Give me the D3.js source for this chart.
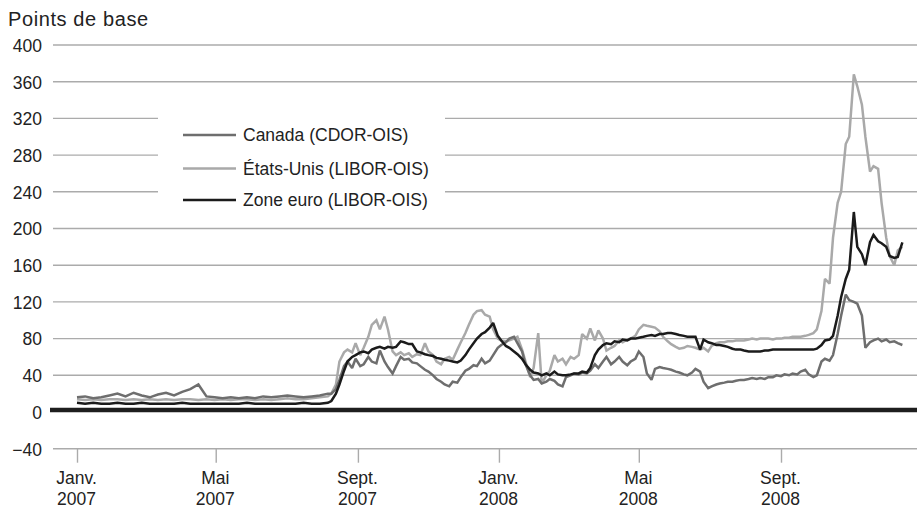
<!DOCTYPE html>
<html>
<head>
<meta charset="utf-8">
<script src="https://cdn.jsdelivr.net/npm/d3@7"></script>
<style>
  html, body { margin: 0; padding: 0; background: #fff; }
  svg { display: block; font-family: "Liberation Sans", Arial, Helvetica, sans-serif; }
</style>
</head>
<body>
<svg id="chart" width="917" height="510"></svg>
<script>
// ---------- DATA ----------
const dates = [
  "2007-01-01","2007-01-08","2007-01-15","2007-01-22","2007-01-29","2007-02-05","2007-02-12","2007-02-19","2007-02-26",
  "2007-03-05","2007-03-12","2007-03-19","2007-03-26","2007-04-02","2007-04-09","2007-04-16","2007-04-23","2007-04-30",
  "2007-05-07","2007-05-14","2007-05-21","2007-05-28","2007-06-04","2007-06-11","2007-06-18","2007-06-25",
  "2007-07-02","2007-07-09","2007-07-16","2007-07-23","2007-07-30","2007-08-06",
  "2007-08-09","2007-08-13","2007-08-16","2007-08-20","2007-08-23","2007-08-27","2007-08-30",
  "2007-09-03","2007-09-06","2007-09-10","2007-09-13","2007-09-17","2007-09-20","2007-09-24","2007-09-27",
  "2007-10-01","2007-10-04","2007-10-08","2007-10-11","2007-10-15","2007-10-18","2007-10-22","2007-10-25","2007-10-29",
  "2007-11-01","2007-11-05","2007-11-08","2007-11-12","2007-11-15","2007-11-19","2007-11-22","2007-11-26","2007-11-29",
  "2007-12-03","2007-12-06","2007-12-10","2007-12-13","2007-12-17","2007-12-20","2007-12-24","2007-12-27","2007-12-31",
  "2008-01-03","2008-01-07","2008-01-10","2008-01-14","2008-01-17","2008-01-21","2008-01-24","2008-01-28","2008-01-31",
  "2008-02-04","2008-02-07","2008-02-11","2008-02-14","2008-02-18","2008-02-21","2008-02-25","2008-02-28",
  "2008-03-03","2008-03-06","2008-03-10","2008-03-13","2008-03-17","2008-03-20","2008-03-24","2008-03-27","2008-03-31",
  "2008-04-03","2008-04-07","2008-04-10","2008-04-14","2008-04-17","2008-04-21","2008-04-24","2008-04-28",
  "2008-05-01","2008-05-05","2008-05-08","2008-05-12","2008-05-15","2008-05-19","2008-05-22","2008-05-26","2008-05-29",
  "2008-06-02","2008-06-05","2008-06-09","2008-06-12","2008-06-16","2008-06-19","2008-06-23","2008-06-26","2008-06-30",
  "2008-07-03","2008-07-07","2008-07-10","2008-07-14","2008-07-17","2008-07-21","2008-07-24","2008-07-28","2008-07-31",
  "2008-08-04","2008-08-07","2008-08-11","2008-08-14","2008-08-18","2008-08-21","2008-08-25","2008-08-28",
  "2008-09-01","2008-09-04","2008-09-08","2008-09-11","2008-09-15","2008-09-18","2008-09-22","2008-09-25","2008-09-29",
  "2008-10-02","2008-10-06","2008-10-09","2008-10-13","2008-10-16","2008-10-20","2008-10-23","2008-10-27","2008-10-30",
  "2008-11-03","2008-11-06","2008-11-10","2008-11-13","2008-11-17","2008-11-20","2008-11-24","2008-11-27",
  "2008-12-01","2008-12-04","2008-12-08","2008-12-11","2008-12-15"
];

const canada = [
  16,17,15,16,18,20,17,21,18,16,19,21,18,22,25,30,17,16,15,16,15,16,15,17,16,17,18,17,16,17,18,20,
  20,25,35,50,55,48,58,
  50,52,60,55,53,67,55,49,
  42,50,60,57,58,54,53,50,46,
  44,40,36,33,30,28,33,32,38,
  45,47,51,50,58,53,56,62,70,
  73,76,80,82,75,66,52,40,35,
  36,31,33,36,34,30,28,38,
  40,42,41,43,42,45,52,48,55,
  60,52,55,60,55,51,55,58,
  66,60,42,35,47,49,48,47,46,
  44,43,41,40,43,47,44,33,26,
  28,30,31,32,33,33,34,35,35,
  36,37,36,37,36,38,38,40,
  39,41,40,42,41,44,46,41,38,
  40,55,58,56,62,85,105,128,122,
  120,118,105,70,76,78,80,77,
  79,76,77,75,73
];

const etatsUnis = [
  14,13,14,13,14,14,13,14,13,14,13,14,13,14,14,13,14,13,14,13,14,14,13,14,13,14,15,14,14,15,16,17,
  20,30,55,65,68,65,75,
  62,70,82,95,100,90,104,90,
  66,62,65,62,64,60,63,62,75,
  66,62,55,52,58,60,57,68,76,
  86,95,106,110,111,106,104,90,80,
  78,77,78,80,82,68,55,38,48,
  86,31,40,45,62,55,58,52,
  60,58,62,85,80,91,78,89,80,
  67,70,72,78,76,79,80,83,
  90,95,94,93,92,88,82,77,74,
  71,69,70,72,71,70,68,70,66,
  72,75,76,76,77,77,78,78,78,
  79,80,79,80,80,80,79,80,
  80,81,81,82,82,82,83,84,86,
  90,110,145,140,190,228,240,292,300,
  368,355,335,300,262,268,265,228,
  190,170,160,176,180
];

const zoneEuro = [
  10,9,10,9,9,10,9,9,10,9,9,9,9,10,9,9,9,9,9,9,9,10,9,9,9,9,9,9,10,9,9,10,
  12,20,30,45,55,60,62,
  65,66,64,68,70,71,69,71,
  70,71,77,76,74,74,66,65,63,
  62,61,59,58,57,56,55,54,56,
  62,68,75,80,85,87,92,97,83,
  78,72,70,66,63,58,52,46,43,
  42,40,42,40,44,41,40,40,
  41,42,42,44,43,48,62,68,73,
  75,74,77,76,79,78,80,80,
  81,82,83,84,83,85,85,86,86,
  85,84,83,82,82,82,68,79,76,
  75,73,73,72,71,69,68,68,67,
  66,66,66,66,67,67,68,68,
  68,68,68,68,68,68,68,68,68,
  69,73,78,79,83,105,125,145,155,
  218,180,172,160,185,193,186,184,
  180,170,168,169,185
];

const seriesNames = ["Canada (CDOR-OIS)", "États-Unis (LIBOR-OIS)", "Zone euro (LIBOR-OIS)"];
const yTicks = [-40, 0, 40, 80, 120, 160, 200, 240, 280, 320, 360, 400];
const xTickDates = ["2007-01-01","2007-05-01","2007-09-01","2008-01-01","2008-05-01","2008-09-01"];
const xTickMonths = ["Janv.","Mai","Sept.","Janv.","Mai","Sept."];
const xTickYears = ["2007","2007","2007","2008","2008","2008"];
const yTitle = "Points de base";

// ---------- CHART ----------
const parse = d3.utcParse("%Y-%m-%d");
const svg = d3.select("#chart");
const W = 917;
const textColor = "#222";
const gridColor = "#ababab";

const x = d3.scaleUtc()
  .domain([parse("2007-01-01"), parse("2008-09-01")])
  .range([77, 781]);
const y = d3.scaleLinear().domain([-40, 400]).range([448.7, 45]);

svg.append("rect").attr("width", W).attr("height", 510).attr("fill", "#fff");

// gridlines
svg.append("g").selectAll("line")
  .data(yTicks.filter(d => d !== 0))
  .join("line")
  .attr("x1", 53).attr("x2", W)
  .attr("y1", d => y(d)).attr("y2", d => y(d))
  .attr("stroke", gridColor).attr("stroke-width", 1.4);

// y axis labels
const yAxis = d3.axisLeft(y).tickValues(yTicks).tickSize(0).tickPadding(0).tickFormat(d3.format("d"));
const gy = svg.append("g").attr("transform", "translate(42,0)").call(yAxis);
gy.select(".domain").remove();
gy.selectAll("text")
  .attr("font-size", 17.5).attr("fill", textColor)
  .attr("font-family", "'Liberation Sans', Arial, sans-serif")
  .attr("dy", "0.36em");

// y title
svg.append("text").attr("x", 8).attr("y", 26)
  .attr("font-size", 20).attr("fill", textColor)
  .attr("letter-spacing", 0.6)
  .text(yTitle);

// x axis
const xAxis = d3.axisBottom(x)
  .tickValues(xTickDates.map(parse))
  .tickSize(14).tickPadding(0)
  .tickFormat(() => "");
const gx = svg.append("g").attr("transform", `translate(0,${y(-40)})`).call(xAxis);
gx.select(".domain").remove();
gx.selectAll(".tick line").attr("stroke", gridColor).attr("stroke-width", 1.4);
gx.selectAll(".tick text").remove();
gx.selectAll(".tick").each(function(d, i) {
  const t = d3.select(this).append("text")
    .attr("text-anchor", "middle").attr("fill", textColor)
    .attr("font-size", 17.5);
  t.append("tspan").attr("x", -1).attr("y", 35.5).text(xTickMonths[i]);
  t.append("tspan").attr("x", -1).attr("y", 56).text(xTickYears[i]);
});

// legend background (interrupts gridlines)
svg.append("rect").attr("x", 158).attr("y", 102).attr("width", 287).attr("height", 112).attr("fill", "#fff");

// series
const series = [
  { name: seriesNames[1], values: etatsUnis, color: "#a9a9a9" },
  { name: seriesNames[0], values: canada, color: "#6e6e6e" },
  { name: seriesNames[2], values: zoneEuro, color: "#1b1b1b" }
];
const line = d3.line()
  .x((d, i) => x(parse(dates[i])))
  .y(d => y(d));

// zero line
svg.append("line")
  .attr("x1", 50).attr("x2", W)
  .attr("y1", y(0) - 2).attr("y2", y(0) - 2)
  .attr("stroke", "#1e1e1e").attr("stroke-width", 4.5);

svg.append("g").selectAll("path")
  .data(series)
  .join("path")
  .attr("d", d => line(d.values))
  .attr("fill", "none")
  .attr("stroke", d => d.color)
  .attr("stroke-width", 2.5)
  .attr("stroke-linejoin", "miter")
  .attr("stroke-miterlimit", 2);

// legend
const legendItems = [
  { name: seriesNames[0], color: "#6e6e6e", cy: 135 },
  { name: seriesNames[1], color: "#a9a9a9", cy: 168.5 },
  { name: seriesNames[2], color: "#1b1b1b", cy: 200 }
];
const lg = svg.append("g").selectAll("g").data(legendItems).join("g");
lg.append("line")
  .attr("x1", 183).attr("x2", 236)
  .attr("y1", d => d.cy).attr("y2", d => d.cy)
  .attr("stroke", d => d.color).attr("stroke-width", 2.6);
lg.append("text")
  .attr("x", 243).attr("y", d => d.cy + 6)
  .attr("font-size", 17.5).attr("fill", textColor)
  .text(d => d.name);
</script>
</body>
</html>
